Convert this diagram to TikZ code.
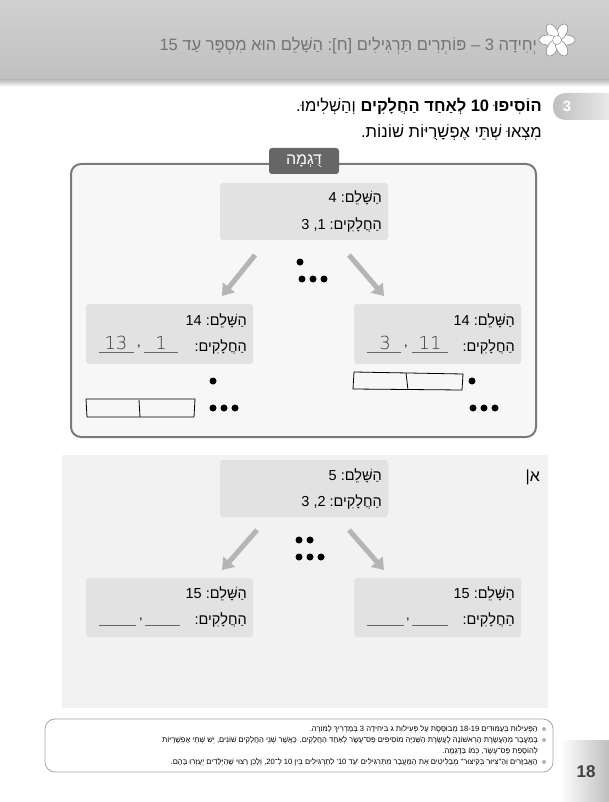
\documentclass[tikz,border=0pt]{standalone}
\usepackage{fontspec}
\setmainfont{Liberation Sans}
\newfontfamily\hebfont[Script=Hebrew]{Liberation Sans}
\newfontfamily\handfont{DejaVu Sans ExtraLight}
\TeXXeTstate=1
\usetikzlibrary{arrows.meta,shadings}
\newcommand{\hb}[1]{{\hebfont\beginR #1\endR}}
\newcommand{\nl}[1]{\beginL #1\endL}
\definecolor{boxg}{HTML}{E2E2E2}
\definecolor{areag}{HTML}{F2F2F2}
\definecolor{frameg}{HTML}{7A7A7A}
\definecolor{arrg}{HTML}{B5B5B5}
\tikzset{
  txt/.style={inner sep=0pt,anchor=east,font=\fontsize{14.5}{16}\selectfont},
  greybox/.style={fill=boxg,rounded corners=3pt,draw=none},
  bigarrow/.style={line width=5pt,arrg,-{Triangle[length=11pt,width=15pt]}},
  dot/.style={circle,fill=black,inner sep=0pt,minimum size=7pt},
  hand/.style={inner sep=0pt,font=\handfont\fontsize{18}{18}\selectfont\color{black!75}},
  blank/.style={draw=black!60,line width=0.6pt},
  note/.style={inner sep=0pt,anchor=east,font=\fontsize{7.6}{9}\selectfont},
  bul/.style={circle,fill=black!30,inner sep=0pt,minimum size=4pt},
}
\begin{document}
\begin{tikzpicture}[x=1pt,y=-1pt]
\useasboundingbox (0,0) rectangle (609,802);
% header
\shade[top color=white!82!black,bottom color=white!75!black] (0,0) rectangle (609,80);
\shade[top color=black!25,bottom color=white] (0,80) rectangle (609,87);
\node[txt,font=\fontsize{16.5}{18}\selectfont\color{black!55}] (title) at (537,46)
 {15 \hb{הַשָּׁלֵם הוּא מִסְפָּר עַד} :[\hb{ח}] \hb{פּוֹתְרִים תַּרְגִּילִים} – 3 \hb{יְחִידָה}};
% flower
\begin{scope}[shift={(557,40)}]
\foreach \a in {0,60,...,300}
  \draw[black!45,fill=white,line width=0.6pt,rotate=\a] (9,0) ellipse[x radius=9pt,y radius=5pt];
\node[circle,draw=black!45,fill=white,minimum size=9pt,inner sep=0pt] (fc) at (0,0) {};
\end{scope}
% tab 3
\shade[left color=black!25,right color=white,rounded corners=12pt] (553,93) rectangle (640,120);
\node[font=\bfseries\fontsize{15}{17}\selectfont\color{white}] (tab) at (567,106) {3};
% instructions
\node[txt,font=\fontsize{16.5}{18}\selectfont] (ins1) at (542,106)
 {.\hb{וְהַשְׁלִימוּ} {\bfseries\hb{לְאַחַד הַחֲלָקִים} 10 \hb{הוֹסִיפוּ}}};
\node[txt,font=\fontsize{16.5}{18}\selectfont] (ins2) at (542,133)
 {.\hb{מִצְאוּ שְׁתֵּי אֶפְשָׁרֻיּוֹת שׁוֹנוֹת}};
% example frame
\draw[frameg,line width=2pt,fill=areag!60,rounded corners=10pt] (71,164) rectangle (536,437);
\node[fill=black!60,rounded corners=3pt,minimum width=70pt,minimum height=26pt,
  font=\fontsize{16}{18}\selectfont\color{white}] (ex) at (304,161) {\hb{דֻּגְמָה}};
% top box
\fill[greybox] (220,183) rectangle (388,240);
\node[txt] (t1) at (382,198) {4 :\hb{הַשָּׁלֵם}};
\node[txt] (t2) at (382,225) {3 ,1 :\hb{הַחֲלָקִים}};
\node[dot] (d1) at (300,262) {};
\foreach \x in {302,313,324} \node[dot] at (\x,279) {};
\coordinate (a1s) at (255,255); \coordinate (a1e) at (222,296);
\coordinate (a2s) at (349,255); \coordinate (a2e) at (384,296);
\draw[bigarrow] (a1s) -- (a1e);
\draw[bigarrow] (a2s) -- (a2e);
% left box
\fill[greybox] (86,304) rectangle (253,364);
\node[txt] (l1) at (247,321) {14 :\hb{הַשָּׁלֵם}};
\node[txt] (l2) at (247,347) {:\hb{הַחֲלָקִים}};
\draw[blank] (144,352) -- (178,352); \node[hand] at (161,343) {1};
\node[font=\fontsize{13}{14}\selectfont] at (139,347) {,};
\draw[blank] (99,352) -- (134,352); \node[hand] at (116,343) {13};
% right box
\fill[greybox] (354,304) rectangle (521,364);
\node[txt] (r1) at (515,321) {14 :\hb{הַשָּׁלֵם}};
\node[txt] (r2) at (515,347) {:\hb{הַחֲלָקִים}};
\draw[blank] (412,352) -- (448,352); \node[hand] at (430,343) {11};
\node[font=\fontsize{13}{14}\selectfont] at (406,347) {,};
\draw[blank] (367,352) -- (401,352); \node[hand] at (385,343) {3};
% drawn bars
\draw[line width=0.8pt] (354,372) -- (463,374) -- (462,390) -- (353,389) -- cycle;
\draw[line width=0.8pt] (406,373) -- (408,390);
\node[dot] at (472,381) {};
\foreach \x in {473,484,495} \node[dot] at (\x,408) {};
\draw[line width=0.8pt] (86,399) -- (195,399) -- (194,417) -- (87,417) -- cycle;
\draw[line width=0.8pt] (139,400) -- (140,417);
\node[dot] at (213,381) {};
\foreach \x in {213,224,235} \node[dot] at (\x,408) {};
% section a
\fill[areag] (62,455) rectangle (548,708);
\node[txt,font=\fontsize{16}{18}\selectfont] (alef) at (540,477) {|\hb{א}};
\fill[greybox] (220,460) rectangle (388,517);
\node[txt] (a1) at (382,476) {5 :\hb{הַשָּׁלֵם}};
\node[txt] (a2) at (382,502) {3 ,2 :\hb{הַחֲלָקִים}};
\foreach \x in {299,310} \node[dot] at (\x,540) {};
\foreach \x in {299,310,321} \node[dot] at (\x,557) {};
\coordinate (b1s) at (257,530); \coordinate (b1e) at (222,570);
\coordinate (b2s) at (349,530); \coordinate (b2e) at (384,570);
\draw[bigarrow] (b1s) -- (b1e);
\draw[bigarrow] (b2s) -- (b2e);
\fill[greybox] (86,578) rectangle (253,637);
\node[txt] (b1) at (247,594) {15 :\hb{הַשָּׁלֵם}};
\node[txt] (b2) at (247,620) {:\hb{הַחֲלָקִים}};
\draw[blank] (145,625) -- (180,625);
\node[font=\fontsize{13}{14}\selectfont] at (141,620) {,};
\draw[blank] (99,625) -- (136,625);
\fill[greybox] (354,578) rectangle (521,637);
\node[txt] (c1) at (515,594) {15 :\hb{הַשָּׁלֵם}};
\node[txt] (c2) at (515,620) {:\hb{הַחֲלָקִים}};
\draw[blank] (412,625) -- (448,625);
\node[font=\fontsize{13}{14}\selectfont] at (408,620) {,};
\draw[blank] (367,625) -- (404,625);
% notes
\draw[black!35,line width=0.8pt,fill=white,rounded corners=10pt] (45,719) rectangle (553,772);
\node[bul] at (544,729) {};
\node[note] (n1) at (538,729) {\hb{הַפְּעִילוּת בְּעַמּוּדִים \nl{18-19} מְבוּסֶּסֶת עַל פְּעִילוּת ג בִּיחִידָה \nl{3} בְּמַדְרִיךְ לַמּוֹרֶה.}};
\node[bul] at (544,740) {};
\node[note] (n2) at (538,740) {\hb{בְּמַעֲבָר מֵהָעֲשֶׂרֶת הָרִאשׁוֹנָה לָעֲשֶׂרֶת הַשְּׁנִיָּה מוֹסִיפִים פַּס־עֶשֶׂר לְאַחַד הַחֲלָקִים. כַּאֲשֶׁר שְׁנֵי הַחֲלָקִים שׁוֹנִים, יֵשׁ שְׁתֵּי אֶפְשָׁרֻיּוֹת}};
\node[note] (n3) at (538,751) {\hb{לְהוֹסָפַת פַּס־עֶשֶׂר, כְּמוֹ בַּדֻּגְמָה.}};
\node[bul] at (544,762) {};
\node[note] (n4) at (538,762) {\hb{הָאֲבִזָּרִים וְהַ"צִּיּוּר בְּקִיצּוּר" מְבַלִּיטִים אֶת הַמַּעֲבָר מִתַּרְגִּילִים 'עַד \nl{10}' לְתַרְגִּילִים בֵּין \nl{10} לְ־\nl{20}, וְלָכֵן רָצוּי שֶׁהַיְּלָדִים יֵעָזְרוּ בָּהֶם.}};
% page number
\shade[left color=white,right color=black!25] (560,740) rectangle (609,802);
\node[font=\bfseries\fontsize{17}{19}\selectfont\color{black!75}] (pg) at (586,772) {18};
\end{tikzpicture}
\end{document}
